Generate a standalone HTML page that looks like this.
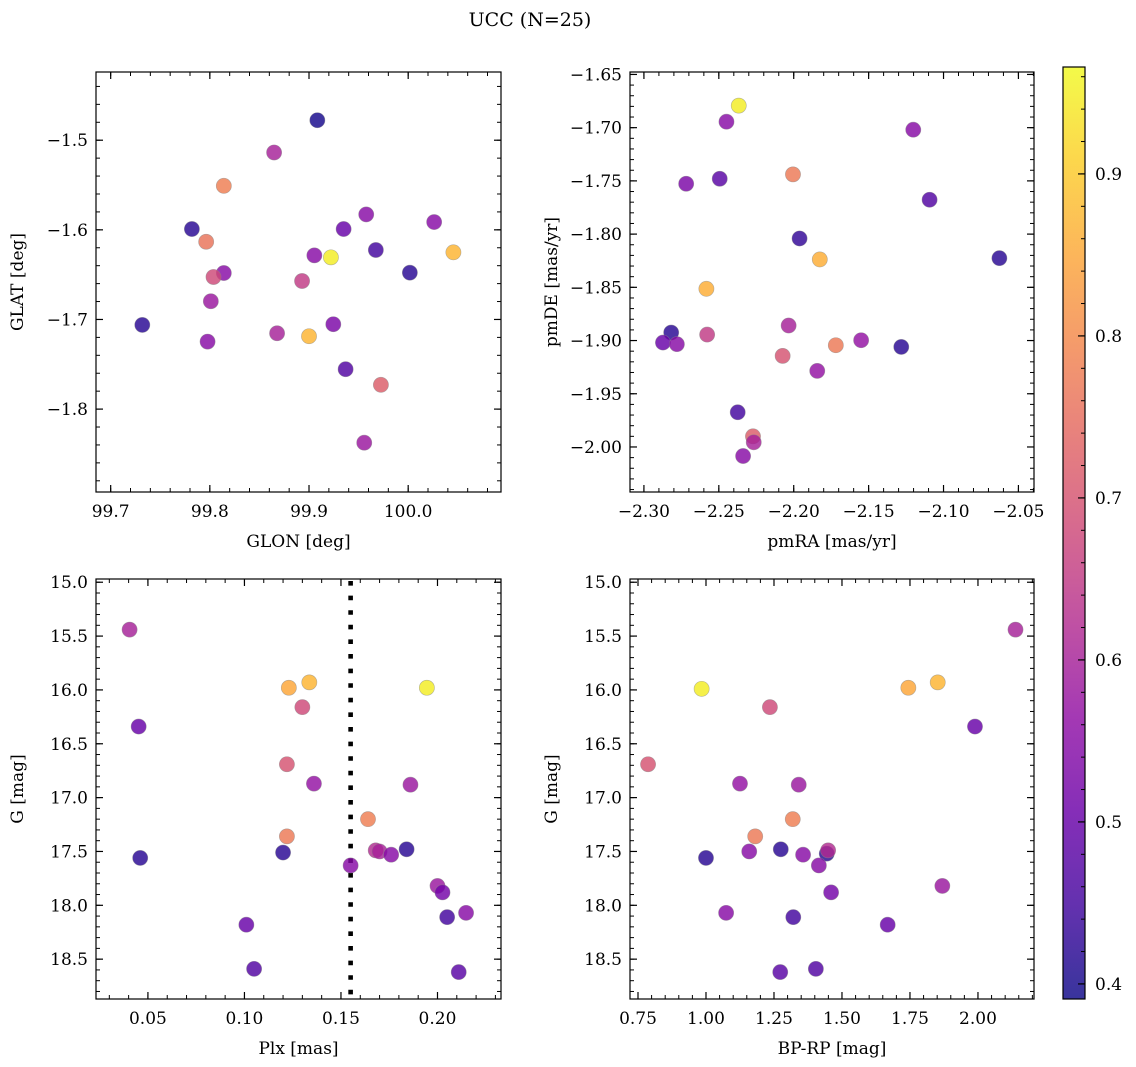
<!DOCTYPE html>
<html><head><meta charset="utf-8"><title>UCC (N=25)</title>
<style>
html,body{margin:0;padding:0;background:#fff;}
svg{display:block;font-family:"DejaVu Serif","Liberation Serif",serif;}
</style></head>
<body>
<svg id="fig" xmlns="http://www.w3.org/2000/svg" width="1136" height="1067" viewBox="0 0 1136 1067">
<text x="530" y="26" font-size="19" text-anchor="middle">UCC (N=25)</text>
</svg>
<script>
// ---- data: top-left (GLON vs GLAT) ----
const glonTL = [99.9084,99.8648,99.8141,99.7819,99.7963,99.9577,99.9349,100.0262,99.9674,100.0456,99.9054,99.9221,100.0017,99.8141,99.8037,99.8930,99.8010,99.7319,99.9245,99.8678,99.9000,99.7977,99.9369,99.9725,99.9557];
const glatTL = [-1.4777,-1.5137,-1.5509,-1.5991,-1.6133,-1.5828,-1.5991,-1.5913,-1.6225,-1.6251,-1.6285,-1.6307,-1.6478,-1.6482,-1.6526,-1.6571,-1.6797,-1.7061,-1.7053,-1.7154,-1.7187,-1.7247,-1.7555,-1.7729,-1.8375];
const probTL = [0.40,0.60,0.78,0.42,0.76,0.55,0.50,0.55,0.45,0.87,0.55,0.95,0.42,0.55,0.68,0.65,0.58,0.42,0.53,0.60,0.87,0.55,0.47,0.72,0.58];
// ---- data: top-right (pmRA vs pmDE) ----
const pmraTR = [-2.2367,-2.2449,-2.1202,-2.2718,-2.2494,-2.2005,-2.1093,-2.1961,-2.1826,-2.0627,-2.2583,-2.2818,-2.2873,-2.2780,-2.2578,-2.2034,-2.2074,-2.1719,-2.1550,-2.1282,-2.1843,-2.2374,-2.2272,-2.2267,-2.2338];
const pmdeTR = [-1.6793,-1.6944,-1.7019,-1.7527,-1.7480,-1.7439,-1.7677,-1.8041,-1.8238,-1.8226,-1.8514,-1.8925,-1.9019,-1.9034,-1.8944,-1.8859,-1.9144,-1.9044,-1.8997,-1.9060,-1.9285,-1.9674,-1.9900,-1.9956,-2.0085];
const probTR = [0.95,0.55,0.55,0.53,0.48,0.77,0.47,0.43,0.86,0.42,0.86,0.42,0.50,0.55,0.65,0.60,0.70,0.77,0.57,0.42,0.57,0.45,0.72,0.60,0.55];
// ---- data: bottom-left (Plx vs G) ----
const plxBL = [0.0405,0.0452,0.0460,0.1230,0.1336,0.1300,0.1220,0.1360,0.1220,0.1200,0.1010,0.1050,0.1550,0.1640,0.1680,0.1700,0.1760,0.1840,0.1860,0.1945,0.2000,0.2026,0.2050,0.2148,0.2110];
const gBL = [15.44,16.34,17.56,15.98,15.93,16.16,16.69,16.87,17.36,17.51,18.18,18.59,17.63,17.20,17.49,17.50,17.53,17.48,16.88,15.98,17.82,17.88,18.11,18.07,18.62];
const probBL = [0.60,0.50,0.42,0.85,0.87,0.68,0.70,0.57,0.77,0.42,0.50,0.47,0.55,0.78,0.62,0.60,0.55,0.42,0.58,0.95,0.58,0.52,0.45,0.55,0.48];
const plxCut = 0.155;
// ---- data: bottom-right (BP-RP vs G) ----
const bprpBR = [2.138,0.984,1.744,1.852,1.235,1.989,0.787,1.125,1.341,1.319,1.181,1.000,1.159,1.275,1.357,1.444,1.449,1.415,1.869,1.460,1.074,1.321,1.668,1.273,1.404];
const gBR = [15.44,15.99,15.98,15.93,16.16,16.34,16.69,16.87,16.88,17.20,17.36,17.56,17.50,17.48,17.53,17.52,17.49,17.63,17.82,17.88,18.07,18.11,18.18,18.62,18.59];
const probBR = [0.60,0.95,0.85,0.87,0.68,0.50,0.70,0.57,0.58,0.78,0.77,0.42,0.55,0.42,0.55,0.42,0.62,0.55,0.58,0.52,0.55,0.45,0.50,0.48,0.47];
// ---- tick labels ----
const ticksTLx = [99.7,99.8,99.9,100.0];
const ticksTLy = [-1.5,-1.6,-1.7,-1.8];
const ticksTRx = [-2.30,-2.25,-2.20,-2.15,-2.10,-2.05];
const ticksTRy = [-1.65,-1.70,-1.75,-1.80,-1.85,-1.90,-1.95,-2.00];
const ticksBLx = [0.05,0.10,0.15,0.20];
const ticksGy = [15.0,15.5,16.0,16.5,17.0,17.5,18.0,18.5];
const ticksBRx = [0.75,1.00,1.25,1.50,1.75,2.00];
const ticksCB = [0.4,0.5,0.6,0.7,0.8,0.9];
const cbMin = 0.3907, cbMax = 0.966;

const NS = "http://www.w3.org/2000/svg";
const svg = document.getElementById('fig');
function mk(tag, attrs, parent){
  const e = document.createElementNS(NS, tag);
  for (const k in attrs) e.setAttribute(k, attrs[k]);
  (parent||svg).appendChild(e);
  return e;
}
const plasma = [[13,8,135],[65,4,157],[106,0,168],[143,13,164],[177,42,144],[204,71,120],[225,100,98],[242,132,75],[252,166,54],[252,206,37],[240,249,33]];
function cmap(t){
  t = Math.max(0, Math.min(1, t));
  const f = t*10, i = Math.min(9, Math.floor(f)), r = f - i;
  const a = plasma[i], b = plasma[i+1];
  return 'rgb(' + [0,1,2].map(k => Math.round(a[k]+(b[k]-a[k])*r)).join(',') + ')';
}
function colorOf(p){ return cmap((p-cbMin)/(cbMax-cbMin)); }
function lin(d0,d1,r0,r1){ return v => r0 + (v-d0)*(r1-r0)/(d1-d0); }
function fmt(v, dec){ const s = v.toFixed(dec); return s.replace('-', '\u2212'); }
const FS = 17;

function panel(cfg){
  const g = mk('g', {});
  
  
  const sx = lin(cfg.xmin, cfg.xmax, cfg.L, cfg.R);
  const sy = lin(cfg.ytop, cfg.ybot, cfg.T, cfg.B);
  const mg = mk('g', {stroke:'#000','stroke-width':1}, g);
  
  
  const xlo = Math.min(cfg.xmin,cfg.xmax), xhi = Math.max(cfg.xmin,cfg.xmax);
  for (let v = Math.ceil(xlo/cfg.xminor - 1e-6)*cfg.xminor; v <= xhi + 1e-9; v += cfg.xminor){
    const x = sx(v);
    mk('line', {x1:x, x2:x, y1:cfg.B, y2:cfg.B-4}, mg);
    mk('line', {x1:x, x2:x, y1:cfg.T, y2:cfg.T+4}, mg);
  }
  const ylo = Math.min(cfg.ytop,cfg.ybot), yhi = Math.max(cfg.ytop,cfg.ybot);
  for (let v = Math.ceil(ylo/cfg.yminor - 1e-6)*cfg.yminor; v <= yhi + 1e-9; v += cfg.yminor){
    const y = sy(v);
    mk('line', {x1:cfg.L, x2:cfg.L+4, y1:y, y2:y}, mg);
    mk('line', {x1:cfg.R, x2:cfg.R-4, y1:y, y2:y}, mg);
  }
  cfg.xt.forEach(v => {
    const x = sx(v);
    mk('line', {x1:x, x2:x, y1:cfg.B, y2:cfg.B-7, stroke:'#000','stroke-width':1.2}, g);
    mk('line', {x1:x, x2:x, y1:cfg.T, y2:cfg.T+7, stroke:'#000','stroke-width':1.2}, g);
    const t = mk('text', {x:x, y:cfg.B+25, 'font-size':FS, 'text-anchor':'middle'}, g);
    t.textContent = fmt(v, cfg.xdec);
    
    
  });
  cfg.yt.forEach(v => {
    const y = sy(v);
    mk('line', {x1:cfg.L, x2:cfg.L+7, y1:y, y2:y, stroke:'#000','stroke-width':1.2}, g);
    mk('line', {x1:cfg.R, x2:cfg.R-7, y1:y, y2:y, stroke:'#000','stroke-width':1.2}, g);
    const t = mk('text', {x:cfg.L-8, y:y+6, 'font-size':FS, 'text-anchor':'end'}, g);
    t.textContent = fmt(v, cfg.ydec);
    
    
  });
  if (cfg.vline !== undefined){
    const x = sx(cfg.vline);
    const ln = mk('line', {x1:x, x2:x, y1:cfg.T+2, y2:cfg.B, stroke:'#000','stroke-width':4.6,'stroke-dasharray':'4.6 10'}, g);
    
    
  }
  cfg.xs.forEach((xv, i) => {
    const c = mk('circle', {cx:sx(xv), cy:sy(cfg.ys[i]), r:7.6, fill:colorOf(cfg.ps[i]), 'fill-opacity':0.82, stroke:'#888','stroke-opacity':0.6,'stroke-width':0.6}, g);
    
    
  });
  const fr = mk('rect', {x:cfg.L, y:cfg.T, width:cfg.R-cfg.L, height:cfg.B-cfg.T, fill:'none', stroke:'#000','stroke-width':1.2}, g);
  
  
  const xl = mk('text', {x:(cfg.L+cfg.R)/2, y:cfg.B+55, 'font-size':FS, 'text-anchor':'middle'}, g);
  xl.textContent = cfg.xlabel;
  
  
  const yx = cfg.L - 73, yy = (cfg.T+cfg.B)/2;
  const yl = mk('text', {x:yx, y:yy, 'font-size':FS, 'text-anchor':'middle', transform:'rotate(-90 '+yx+' '+yy+')'}, g);
  yl.textContent = cfg.ylabel;
  
  
}

panel({name:'glon-glat-panel', L:96, R:501, T:72, B:492, xmin:99.6852, xmax:100.0936, ytop:-1.4239, ybot:-1.8925,
  xt:ticksTLx, yt:ticksTLy, xdec:1, ydec:1, xminor:0.02, yminor:0.02, xs:glonTL, ys:glatTL, ps:probTL,
  xlabel:'GLON [deg]', ylabel:'GLAT [deg]'});
panel({name:'pm-panel', L:630, R:1034, T:72, B:492, xmin:-2.3093, xmax:-2.0396, ytop:-1.6477, ybot:-2.0423,
  xt:ticksTRx, yt:ticksTRy, xdec:2, ydec:2, xminor:0.01, yminor:0.01, xs:pmraTR, ys:pmdeTR, ps:probTR,
  xlabel:'pmRA [mas/yr]', ylabel:'pmDE [mas/yr]'});
panel({name:'plx-g-panel', L:96, R:501, T:579, B:999, xmin:0.0231, xmax:0.2329, ytop:14.97, ybot:18.87,
  xt:ticksBLx, yt:ticksGy, xdec:2, ydec:1, xminor:0.01, yminor:0.1, xs:plxBL, ys:gBL, ps:probBL,
  xlabel:'Plx [mas]', ylabel:'G [mag]', vline:plxCut});
panel({name:'cmd-panel', L:630, R:1034, T:579, B:999, xmin:0.7206, xmax:2.206, ytop:14.97, ybot:18.87,
  xt:ticksBRx, yt:ticksGy, xdec:2, ydec:1, xminor:0.05, yminor:0.1, xs:bprpBR, ys:gBR, ps:probBR,
  xlabel:'BP-RP [mag]', ylabel:'G [mag]'});

const defs = mk('defs', {});
const grad = mk('linearGradient', {id:'cbg', x1:0, y1:1, x2:0, y2:0}, defs);
for (let i = 0; i <= 20; i++){
  mk('stop', {offset:(i/20), 'stop-color':cmap(i/20), 'stop-opacity':0.82}, grad);
}
const cbL = 1063, cbR = 1085, cbT = 67, cbB = 999;
const cbs = lin(cbMin, cbMax, cbB, cbT);
const cbg = mk('g', {});


mk('rect', {x:cbL, y:cbT, width:cbR-cbL, height:cbB-cbT, fill:'url(#cbg)'}, cbg);
for (let v = 0.40; v <= cbMax; v += 0.02){
  const y = cbs(v);
  mk('line', {x1:cbR, x2:cbR-4, y1:y, y2:y, stroke:'#000','stroke-width':1}, cbg);
}
ticksCB.forEach(v => {
  const y = cbs(v);
  mk('line', {x1:cbR, x2:cbR-7, y1:y, y2:y, stroke:'#000','stroke-width':1.2}, cbg);
  const t = mk('text', {x:cbR+10, y:y+6, 'font-size':FS}, cbg);
  t.textContent = v.toFixed(1);
  
  
});
mk('rect', {x:cbL, y:cbT, width:cbR-cbL, height:cbB-cbT, fill:'none', stroke:'#000','stroke-width':1.2}, cbg);
</script>
</body></html>
